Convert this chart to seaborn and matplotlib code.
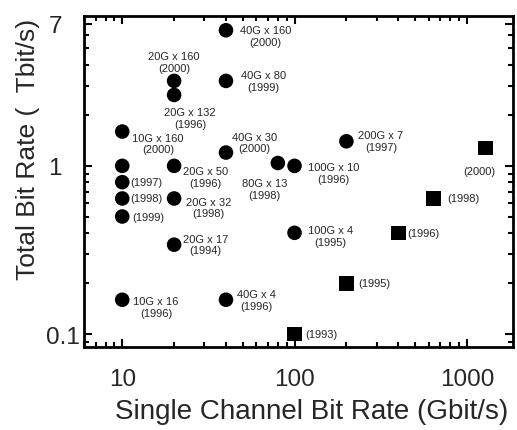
import matplotlib
matplotlib.use("Agg")
import matplotlib.pyplot as plt
import matplotlib.transforms as mtransforms
from matplotlib.ticker import LogLocator, NullFormatter, FixedLocator, FixedFormatter
import seaborn as sns
import pandas as pd

# Single channel rate (Gbit/s), total rate (Tbit/s), label, marker kind
channel_rate = [10, 10, 10, 10, 10, 10,
                20, 20, 20, 20, 20,
                40, 40, 40, 40,
                80, 100, 100, 200,
                100, 200, 400, 640, 1280]
total_rate = [1.6, 1.0, 0.8, 0.64, 0.5, 0.16,
              3.2, 2.64, 1.0, 0.64, 0.34,
              6.4, 3.2, 1.2, 0.16,
              1.04, 1.0, 0.4, 1.4,
              0.1, 0.2, 0.4, 0.64, 1.28]
point_labels = ["10G x 160\n(2000)", "", "(1997)", "(1998)", "(1999)", "10G x 16\n(1996)",
                "20G x 160\n(2000)", "20G x 132\n(1996)", "20G x 50\n(1996)",
                "20G x 32\n(1998)", "20G x 17\n(1994)",
                "40G x 160\n(2000)", "40G x 80\n(1999)", "40G x 30\n(2000)", "40G x 4\n(1996)",
                "80G x 13\n(1998)", "100G x 10\n(1996)", "100G x 4\n(1995)", "200G x 7\n(1997)",
                "(1993)", "(1995)", "(1996)", "(1998)", "(2000)"]
kind = ["WDM"] * 19 + ["TDM"] * 5

x_ticks = [10, 100, 1000]
y_ticks = [0.1, 1, 7]
y_tick_labels = ["0.1", "1", "7"]

# label offsets in pixels (dx, dy, ha)
label_offsets = [(10, -12, "left"), (0, 0, "left"), (8, 0, "left"), (8, 0, "left"),
                 (10, 0, "left"), (11, -7, "left"),
                 (0, 19, "center"), (16, -23, "center"), (9, -11, "left"),
                 (12, -9, "left"), (9, 0, "left"),
                 (14, -6, "left"), (15, 0, "left"), (6, 10, "left"), (11, 0, "left"),
                 (-13, -26, "center"), (13, -7, "left"), (13, -3, "left"), (12, 0, "left"),
                 (11, 0, "left"), (12, 0, "left"), (9, 0, "left"), (14, 0, "left"),
                 (-6, -23, "center")]

df = pd.DataFrame({"rate": channel_rate, "total": total_rate, "kind": kind})

sns.set_style("ticks")
plt.rcParams["font.family"] = ["Liberation Sans", "DejaVu Sans"]

fig = plt.figure(figsize=(5.17, 4.31), dpi=100)
ax = fig.add_axes([0.1625, 0.193, 0.8295, 0.768])

sns.scatterplot(data=df, x="rate", y="total", style="kind",
                markers={"WDM": "o", "TDM": "s"}, color="black",
                s=110, edgecolor="black", linewidth=0, legend=False, ax=ax)

ax.set_xscale("log")
ax.set_yscale("log")
ax.set_xlim(6.0, 1850)
ax.set_ylim(0.084, 7.8)

ax.xaxis.set_major_locator(FixedLocator(x_ticks))
ax.xaxis.set_major_formatter(FixedFormatter([str(t) for t in x_ticks]))
ax.xaxis.set_minor_locator(LogLocator(base=10, subs=range(2, 10)))
ax.xaxis.set_minor_formatter(NullFormatter())
ax.yaxis.set_major_locator(FixedLocator(y_ticks))
ax.yaxis.set_major_formatter(FixedFormatter(y_tick_labels))
ax.yaxis.set_minor_locator(LogLocator(base=10, subs=range(2, 10)))
ax.yaxis.set_minor_formatter(NullFormatter())

ax.tick_params(which="both", direction="in", top=True, right=True, width=1.5, color="black")
ax.tick_params(which="major", length=6)
ax.tick_params(which="minor", length=3.5)
ax.tick_params(axis="x", which="major", labelsize=17.5, pad=15)
ax.tick_params(axis="y", which="major", labelsize=17.5, pad=16)
for sp in ax.spines.values():
    sp.set_linewidth(2)
    sp.set_color("black")

for xv, yv, lab, (dx, dy, ha) in zip(channel_rate, total_rate, point_labels, label_offsets):
    if lab:
        ax.annotate(lab, (xv, yv), xytext=(dx, dy), textcoords="offset pixels",
                    ha=ha, va="center", multialignment="center", fontsize=8)

ax.set_xlabel("Single Channel Bit Rate (Gbit/s)", fontsize=20)
ax.set_ylabel("Total Bit Rate (  Tbit/s)", fontsize=19)
ax.xaxis.set_label_coords(0.53, -0.155)
ax.yaxis.set_label_coords(-0.103, 0.6)

fig.canvas.draw()
# the 0.1 label sits right against the axis in the original
for tick in ax.yaxis.get_major_ticks():
    if tick.label1.get_text() == "0.1":
        tick.label1.set_transform(tick.label1.get_transform() +
                                  mtransforms.ScaledTranslation(18 / 100, 0, fig.dpi_scale_trans))

fig.savefig("out.png", dpi=100)
